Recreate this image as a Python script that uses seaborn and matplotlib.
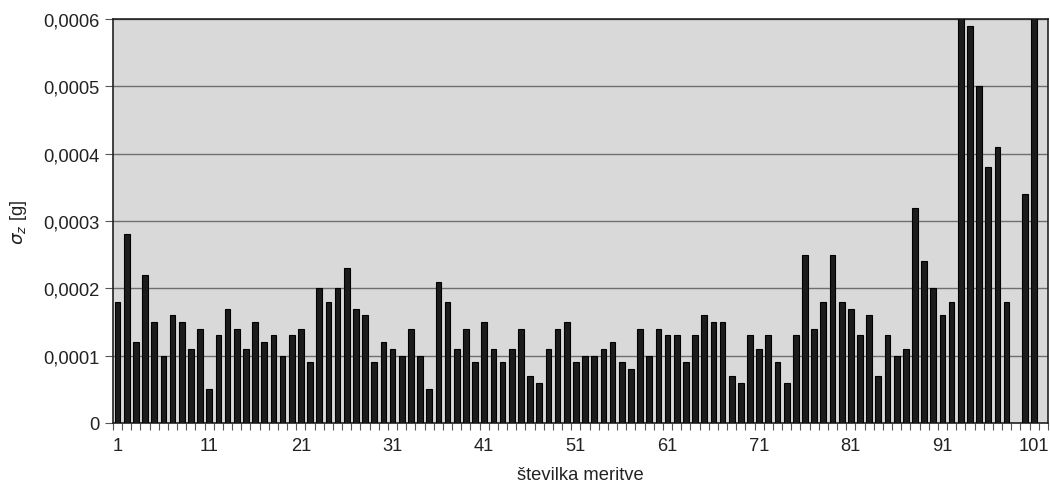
import numpy as np
import pandas as pd
import matplotlib
matplotlib.use('Agg')
import matplotlib.pyplot as plt
import seaborn as sns

# standardni odklon po meritvah [g]; 93 in 101 segata nad rob grafa, 99 in 102 manjkata
meritev = list(range(1, 103))
sigma_z = [0.00018, 0.00028, 0.00012, 0.00022, 0.00015, 0.00010, 0.00016, 0.00015, 0.00011, 0.00014,
           0.00005, 0.00013, 0.00017, 0.00014, 0.00011, 0.00015, 0.00012, 0.00013, 0.00010, 0.00013,
           0.00014, 0.00009, 0.00020, 0.00018, 0.00020, 0.00023, 0.00017, 0.00016, 0.00009, 0.00012,
           0.00011, 0.00010, 0.00014, 0.00010, 0.00005, 0.00021, 0.00018, 0.00011, 0.00014, 0.00009,
           0.00015, 0.00011, 0.00009, 0.00011, 0.00014, 0.00007, 0.00006, 0.00011, 0.00014, 0.00015,
           0.00009, 0.00010, 0.00010, 0.00011, 0.00012, 0.00009, 0.00008, 0.00014, 0.00010, 0.00014,
           0.00013, 0.00013, 0.00009, 0.00013, 0.00016, 0.00015, 0.00015, 0.00007, 0.00006, 0.00013,
           0.00011, 0.00013, 0.00009, 0.00006, 0.00013, 0.00025, 0.00014, 0.00018, 0.00025, 0.00018,
           0.00017, 0.00013, 0.00016, 0.00007, 0.00013, 0.00010, 0.00011, 0.00032, 0.00024, 0.00020,
           0.00016, 0.00018, 0.00070, 0.00059, 0.00050, 0.00038, 0.00041, 0.00018, np.nan, 0.00034,
           0.00070, np.nan]
y_ticks = [0, 0.0001, 0.0002, 0.0003, 0.0004, 0.0005, 0.0006]
y_labels = ['0', '0,0001', '0,0002', '0,0003', '0,0004', '0,0005', '0,0006']
x_labels = ['1', '11', '21', '31', '41', '51', '61', '71', '81', '91', '101']

df = pd.DataFrame({'meritev': [str(m) for m in meritev], 'sigma': sigma_z})

sns.set_style("ticks")
plt.rcParams['font.family'] = ['Liberation Sans', 'DejaVu Sans']
plt.rcParams['mathtext.fontset'] = 'dejavusans'
fs = 13.2

fig = plt.figure(figsize=(10.5, 4.85), dpi=100)
ax = fig.add_axes([0.1076, 0.1258, 0.8904, 0.833])
ax.set_facecolor('#d9d9d9')

sns.barplot(data=df, x='meritev', y='sigma', order=[str(m) for m in meritev],
            color='#1c1c1c', edgecolor='black', linewidth=0.8, width=0.62,
            errorbar=None, ax=ax, zorder=3)
for b in ax.patches:
    b.set_facecolor('#1c1c1c')

ax.set_xlim(-0.5, len(meritev) - 0.5)
ax.set_ylim(0, 0.0006)
ax.set_yticks(y_ticks)
ax.set_yticklabels(y_labels, fontsize=fs, color='#222222')
ax.yaxis.grid(True, color='#6e6e6e', linewidth=1.0, zorder=1)
ax.set_axisbelow(True)

ax.set_xticks([meritev.index(int(l)) for l in x_labels])
ax.set_xticklabels(x_labels, fontsize=fs, color='#222222')
ax.set_xticks(np.arange(-0.5, len(meritev), 1.0), minor=True)
ax.tick_params(axis='x', which='major', length=0, pad=10)
ax.tick_params(axis='x', which='minor', length=5, width=0.8, color='#555555')
ax.tick_params(axis='y', length=6, width=0.8, color='#555555', pad=4)

for s in ax.spines.values():
    s.set_visible(True)
    s.set_color('#222222')
    s.set_linewidth(1.2)

ax.set_xlabel('številka meritve', fontsize=fs, labelpad=9, color='#222222')
ax.set_ylabel(r'$\sigma_z$ [g]', fontsize=fs, labelpad=10, color='#222222')

fig.savefig('out.png', dpi=100)
